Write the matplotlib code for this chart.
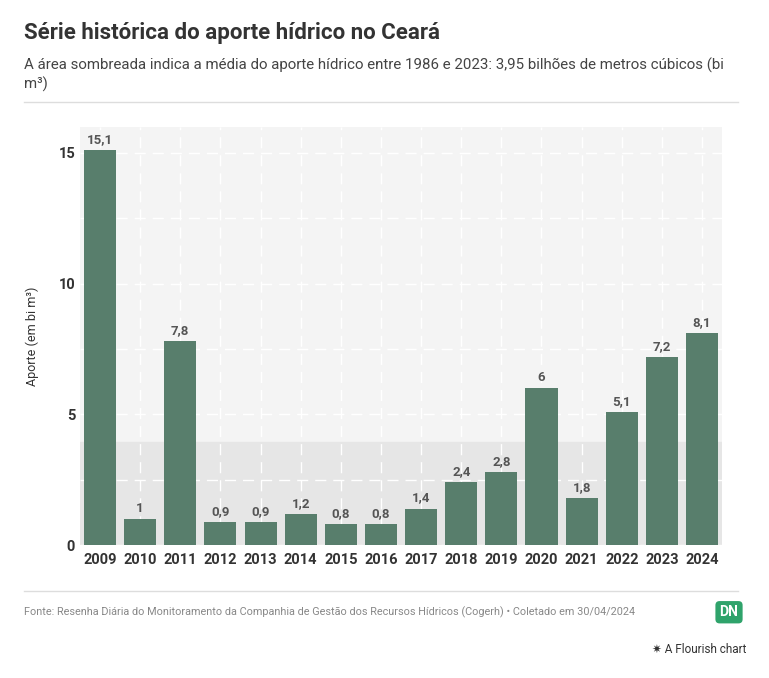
import matplotlib.pyplot as plt

years = ['2009', '2010', '2011', '2012', '2013', '2014', '2015', '2016',
         '2017', '2018', '2019', '2020', '2021', '2022', '2023', '2024']
aporte = [15.1, 1.0, 7.8, 0.9, 0.9, 1.2, 0.8, 0.8, 1.4, 2.4, 2.8, 6.0, 1.8, 5.1, 7.2, 8.1]
labels = ['15,1', '1', '7,8', '0,9', '0,9', '1,2', '0,8', '0,8', '1,4', '2,4', '2,8', '6', '1,8', '5,1', '7,2', '8,1']
media = 3.95


def aporte_visualization(fig_size: tuple = (7.69, 6.78), color: str = '#587e6c'):
    plt.rcParams['font.family'] = ['Roboto', 'DejaVu Sans']

    fig = plt.figure(figsize=fig_size, dpi=100)
    ax = fig.add_axes([0.104, 0.196, 0.835, 0.617])
    ax.set_facecolor('#f4f4f4')

    x = list(range(len(years)))
    ax.axhspan(0, media, color='#e6e6e6', zorder=0)  # faixa da media
    for v in [0, 2.5, 5, 7.5, 10, 12.5, 15]:
        ax.axhline(v, color='white', linestyle='--', linewidth=1, zorder=1).set_dashes([8, 5])
    for xi in x:
        ax.axvline(xi, color='white', linestyle='--', linewidth=1, zorder=1).set_dashes([8, 5])

    ax.bar(x, aporte, width=0.8, color=color, zorder=2)
    for xi, v, lab in zip(x, aporte, labels):
        ax.text(xi, v + 0.15, lab, ha='center', va='bottom', fontsize=9.5,
                fontweight='bold', color='#555555')

    ax.set_xlim(-0.5, len(years) - 0.5)
    ax.set_ylim(0, 16)
    ax.set_xticks(x, years, fontsize=10.5, fontweight='bold', color='#333333')
    ax.set_yticks([0, 5, 10, 15])
    ax.tick_params(axis='y', labelsize=10.5, colors='#333333', length=0)
    ax.tick_params(axis='x', length=0, pad=6)
    for lab in ax.get_yticklabels():
        lab.set_fontweight('bold')
    for s in ax.spines.values():
        s.set_visible(False)
    ax.set_ylabel('Aporte (em bi m³)', fontsize=9, color='#333333', labelpad=14)

    fig.text(0.031, 0.952, 'Série histórica do aporte hídrico no Ceará', fontsize=16,
             fontweight='bold', color='#333333', va='center')
    fig.text(0.031, 0.903, 'A área sombreada indica a média do aporte hídrico entre 1986 e 2023: 3,95 bilhões de metros cúbicos (bi',
             fontsize=10.8, color='#444444', va='center')
    fig.text(0.031, 0.875, 'm³)', fontsize=10.8, color='#444444', va='center')
    fig.add_artist(plt.Line2D([0.031, 0.96], [0.849, 0.849], color='#dddddd', linewidth=1))
    fig.add_artist(plt.Line2D([0.031, 0.96], [0.128, 0.128], color='#dddddd', linewidth=1))

    fig.text(0.031, 0.097, 'Fonte: Resenha Diária do Monitoramento da Companhia de Gestão dos Recursos Hídricos (Cogerh) • Coletado em 30/04/2024',
             fontsize=7.8, color='#888888', va='center')
    fig.text(0.948, 0.097, 'DN', fontsize=10, fontweight='bold', color='white', ha='center', va='center',
             bbox=dict(boxstyle='round,pad=0.3', facecolor='#2fa36b', edgecolor='none'))
    fig.text(0.97, 0.042, '✷ A Flourish chart', fontsize=8.5, color='#333333', ha='right', va='center')

    plt.savefig('out.png', dpi=100)


aporte_visualization()
